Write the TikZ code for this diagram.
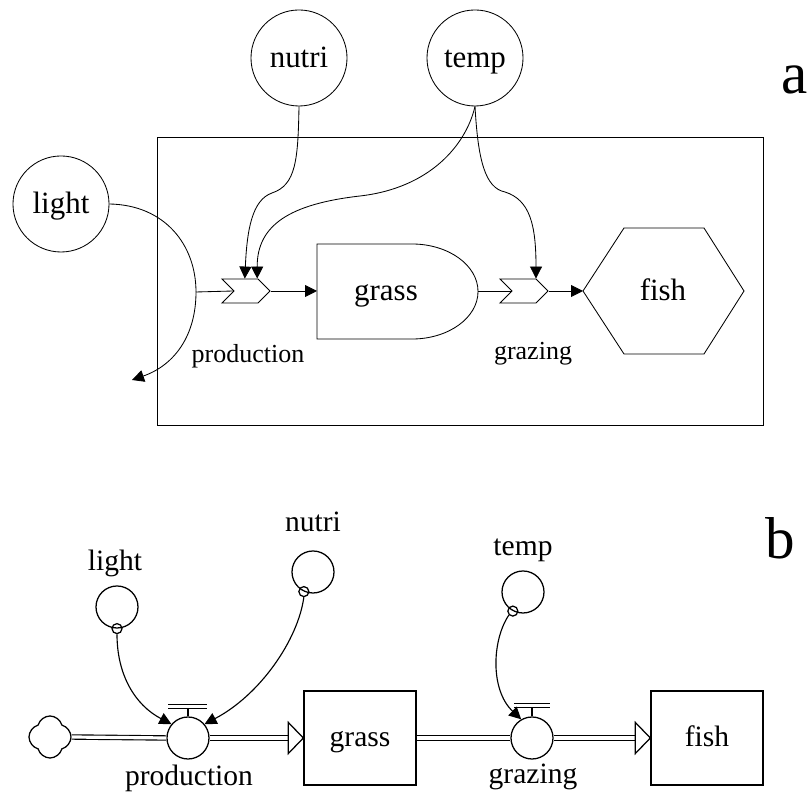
\documentclass[tikz,border=0pt]{standalone}
\usepackage{fontspec}
\setmainfont{Liberation Serif}
\usetikzlibrary{arrows.meta,shapes.symbols,calc}

\begin{document}
\begin{tikzpicture}[x = 0.025cm, y = 0.025cm, line width = 0.6pt,
  bigtext/.style = {font = \fontsize{22}{26}\selectfont, text height = 15pt, text depth = 2pt},
  smalltext/.style = {font = \fontsize{18.5}{22}\selectfont, text height = 12.5pt, text depth = 1.5pt},
  midtext/.style = {font = \fontsize{21}{25}\selectfont, text height = 14pt, text depth = 2pt},
  driver/.style = {draw, circle, minimum size = 2.4cm, inner sep = 0pt, bigtext},
  chevron/.style = {draw, fill = white, signal, signal to = east, signal from = west, minimum width = 1.2cm, minimum height = 0.6cm, inner sep = 0pt},
  link/.style = {-{Triangle[length = 0.3cm, width = 0.3cm]}},
  aux/.style = {draw, circle, minimum size = 1.05cm, inner sep = 0pt, line width = 0.9pt},
  tap/.style = {draw, circle, minimum size = 0.25cm, inner sep = 0pt, line width = 0.9pt},
  stock/.style = {draw, rectangle, minimum width = 2.8cm, minimum height = 2.35cm, line width = 0.9pt, midtext},
  pipe/.style = {double, double distance = 0.08cm, line width = 0.8pt},
  pipehead/.style = {line width = 0.9pt, fill = white}]

\useasboundingbox (0,0) rectangle (809,800);

% a: influence diagram
\draw (157,375) rectangle (763,663);
\node[driver] (nutri) at (299,742) {nutri};
\node[driver] (temp) at (475,742) {temp};
\node[driver] (light) at (61,596) {light};
\node[chevron] (valve1) at (246,509) {};
\node[chevron] (valve2) at (524,509) {};

% grass: flat left side, round right side
\draw (317,556) -- (412,556) arc[start angle = 90, end angle = -90, x radius = 1.65cm, y radius = 1.1875cm] -- (317,461) -- cycle;
\node[bigtext] (grass) at (386,509) {grass};
\coordinate (grassW) at (317,509);
\coordinate (grassE) at (478,509);

% fish hexagon
\draw (583,509) -- (624,572) -- (704,572) -- (744,509) -- (704,446) -- (624,446) -- cycle;
\node[bigtext] (fish) at (663,509) {fish};
\coordinate (fishW) at (583,509);

\node[smalltext] (prodA) at (248,445) {production};
\node[smalltext] (grazA) at (533,448) {grazing};
\node[font = \fontsize{42}{48}\selectfont] (labA) at (795,720) {a};

\coordinate (lightBend) at (196,508);
\coordinate (lightEnd) at (132,420);
\draw (light.east) .. controls (165,595) and (196,555) .. (lightBend);
\draw[link] (lightBend) .. controls (196,465) and (175,435) .. (lightEnd);
\draw (lightBend) -- (valve1.west);
\draw[link] (nutri.south) .. controls (298,640) and (296,615) .. (272,607) .. controls (252,600) and (247,570) .. ([xshift = -0.03cm]valve1.north);
\draw[link] (temp.south) .. controls (466,655) and (430,612) .. (360,604) .. controls (290,596) and (257,575) .. ([xshift = 0.28cm]valve1.north);
\draw[link] (temp.south) .. controls (478,640) and (485,612) .. (505,608) .. controls (530,600) and (536,575) .. ([xshift = 0.3cm]valve2.north);
\draw[link] (valve1.east) -- (grassW);
\draw (grassE) -- (valve2.west);
\draw[link] (valve2.east) -- (fishW);

% b: stock and flow diagram
\node[draw, cloud, cloud puffs = 4, aspect = 1, minimum width = 1.05cm, minimum height = 1.05cm, inner sep = 0pt, line width = 0.9pt] (source) at (50,63) {};
\node[aux] (prod) at (188,62) {};
\node[aux] (graz) at (532,62) {};
\node[stock] (grassB) at (360,62) {grass};
\node[stock] (fishB) at (707,62) {fish};
\node[aux] (lightB) at (117,193) {};
\node[aux] (nutriB) at (313,228) {};
\node[aux] (tempB) at (523,208) {};
\node[tap] (tapL) at (lightB.270) {};
\node[tap] (tapN) at (nutriB.245) {};
\node[tap] (tapT) at (tempB.242) {};

\node[midtext] (prodB) at (189,23) {production};
\node[midtext] (grazB) at (533,25) {grazing};
\node[midtext] (lightL) at (115,238) {light};
\node[midtext] (nutriL) at (313,277) {nutri};
\node[midtext] (tempL) at (523,253) {temp};
\node[font = \fontsize{42}{48}\selectfont] (labB) at (780,262) {b};

% pipes with open heads
\draw[pipe] (source.east) -- (prod.west);
\draw[pipe] (prod.east) -- ($(grassB.west)+(-15,0)$);
\draw[pipe] (grassB.east) -- (graz.west);
\draw[pipe] (graz.east) -- ($(fishB.west)+(-15,0)$);
\draw[pipehead] ($(grassB.west)+(-15,15.5)$) -- (grassB.west) -- ($(grassB.west)+(-15,-15.5)$) -- cycle;
\draw[pipehead] ($(fishB.west)+(-15,15.5)$) -- (fishB.west) -- ($(fishB.west)+(-15,-15.5)$) -- cycle;

% valve handles
\draw[line width = 0.8pt] (prod.north) -- ($(prod.north)+(0,10)$);
\draw[double, double distance = 0.06cm, line width = 0.8pt] ($(prod.north)+(-20,10)$) -- ($(prod.north)+(19,10)$);
\draw[line width = 0.8pt] (graz.north) -- ($(graz.north)+(0,10)$);
\draw[double, double distance = 0.06cm, line width = 0.8pt] ($(graz.north)+(-18,11)$) -- ($(graz.north)+(18,11)$);

% information links
\draw[link, line width = 0.8pt] (tapL.south) .. controls (117,125) and (135,95) .. (prod.140);
\draw[link, line width = 0.8pt] (tapN.south) .. controls (298,160) and (260,105) .. (prod.40);
\draw[link, line width = 0.8pt] (tapT.south west) .. controls (492,160) and (490,110) .. (graz.120);
\end{tikzpicture}
\end{document}
